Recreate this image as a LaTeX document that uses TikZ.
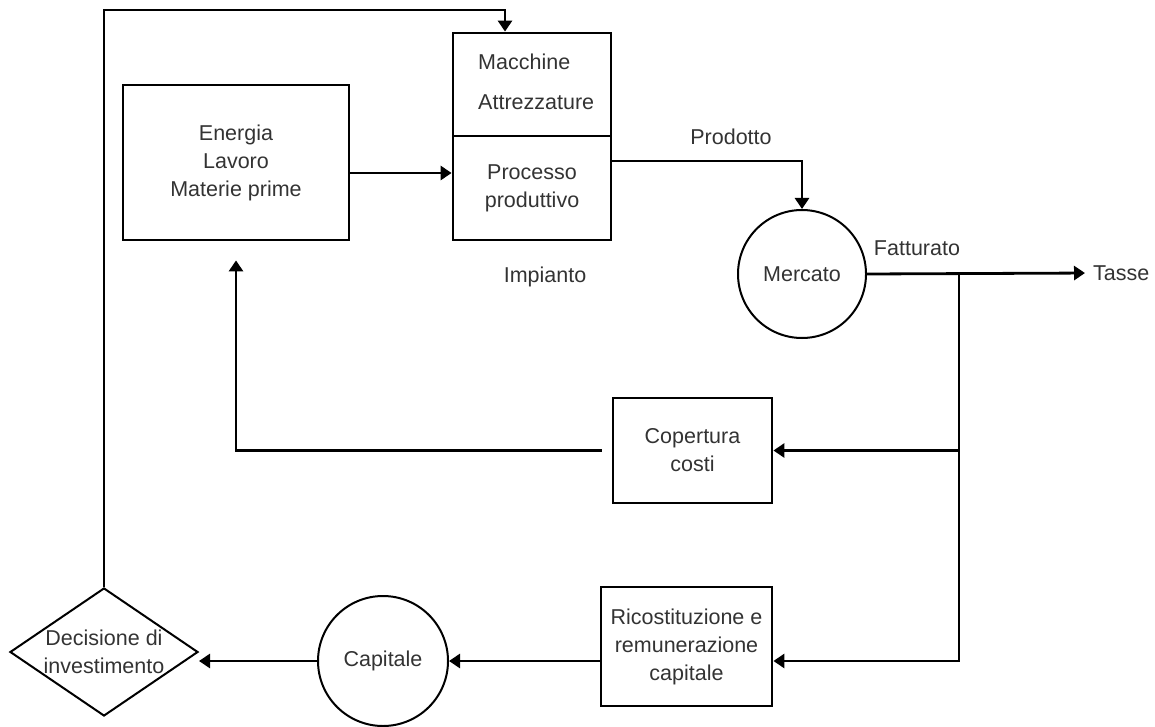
\documentclass[tikz,border=0pt]{standalone}
\usepackage{fontspec}
\setmainfont{Liberation Sans}
\usetikzlibrary{arrows.meta,shapes.geometric}
\begin{document}
\begin{tikzpicture}[x=1pt,y=-1pt,
  every node/.style={font=\fontsize{21.5}{28}\selectfont, text=black!80},
  boxnode/.style={draw=black, line width=2.8pt, rectangle, inner sep=0pt, align=center},
  roundnode/.style={draw=black, line width=2pt, circle, inner sep=0pt, minimum size=128pt},
  choicenode/.style={draw=black, line width=2pt, diamond, inner sep=0pt, aspect=1.47,
    minimum width=188pt, minimum height=128pt, align=center},
  label/.style={inner sep=0pt},
  flow/.style={line width=2.8pt, -{Triangle[length=11pt,width=14pt]}}]
\useasboundingbox (0,0) rectangle (1155,727);

% inputs and plant
\node[boxnode, minimum width=226pt, minimum height=155pt] (en) at (236,162.5)
  {Energia\\Lavoro\\Materie prime};
\node[boxnode, minimum width=158pt, minimum height=103pt] (mac) at (532,84.5) {};
\node[boxnode, minimum width=158pt, minimum height=104pt] (proc) at (532,188)
  {Processo\\produttivo};
\node[label, anchor=west] (macch) at (478,62) {Macchine};
\node[label, anchor=west] (attr) at (478,102) {Attrezzature};
\node[label] (imp) at (545,277) {Impianto};

% market and revenue split
\node[roundnode] (mer) at (802,274) {Mercato};
\node[label] (prod) at (731,137) {Prodotto};
\node[label] (fatt) at (917,248) {Fatturato};
\node[label, anchor=west] (tasse) at (1093,273) {Tasse};
\node[boxnode, minimum width=159pt, minimum height=105pt] (cop) at (692.5,450.5)
  {Copertura\\costi};
\node[boxnode, minimum width=171pt, minimum height=119pt] (ric) at (686.5,646.5)
  {Ricostituzione e\\remunerazione\\capitale};
\node[roundnode, minimum size=130pt] (cap) at (383,661) {Capitale};
\node[choicenode] (dec) at (104,652) {Decisione di\\investimento};

\coordinate (j) at (959,274);
\coordinate (topr) at (505,10);

% connectors
\draw[flow] ([yshift=-10.5pt]en.east) -- ([yshift=-10.5pt]en.east -| proc.west);
\draw[flow] ([yshift=27pt]proc.east) -| (mer.north);
\draw[flow, shorten >=8pt] (mer.east) -- (tasse.west);
\draw[flow] (j) |- (cop.east);
\draw[flow] (j) |- ([yshift=-14.5pt]ric.east);
\draw[flow, shorten <=10pt, shorten >=19pt] (cop.west) -| (en.south);
\draw[flow] ([yshift=-14.5pt]ric.west) -- (cap.east);
\draw[flow] (cap.west) -- (cap.west -| dec.east);
\draw[flow] (dec.north) |- (topr) -- (topr |- mac.north);
\end{tikzpicture}
\end{document}
